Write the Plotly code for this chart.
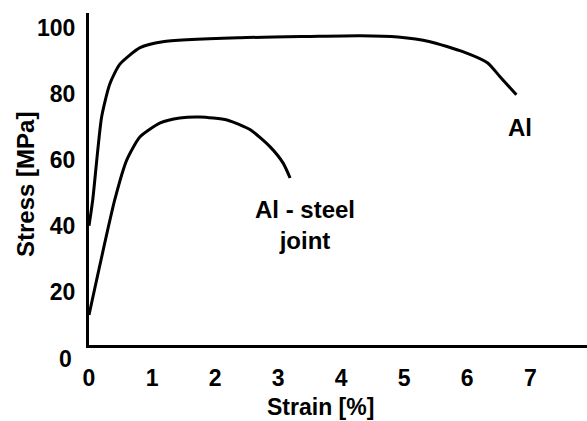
import plotly.graph_objects as go

al_strain = [0, 0.06, 0.2, 0.33, 0.49, 0.81, 1.17, 2.4, 3.5, 4.3, 4.9, 5.41, 5.94, 6.32, 6.52, 6.78]
al_stress = [40, 48, 73, 83, 89, 94, 95.8, 97.0, 97.4, 97.6, 97.2, 95.8, 92.7, 89.4, 85.2, 79.7]

joint_strain = [0, 0.41, 0.6, 0.81, 1.13, 1.44, 1.76, 2.19, 2.56, 2.87, 3.08, 3.19]
joint_stress = [13, 48, 60, 67, 71.2, 72.7, 73, 72.1, 69.1, 64, 59, 54.5]

x_ticks = [0, 1, 2, 3, 4, 5, 6, 7]
y_ticks = [20, 40, 60, 80, 100]

FONT = "Liberation Sans"
TICK_FONT = dict(family=FONT, size=23, color="black", weight="bold")
ANN_FONT = dict(family=FONT, size=24, color="black", weight="bold")
XTITLE_FONT = dict(family=FONT, size=23, color="black", weight="bold")

# plot-area geometry (pixels)
L, R, T, B = 89, 0, 13, 76
W, H = 587 - L - R, 421 - T - B
X_RANGE = [0, 7.9]
Y_RANGE = [3.9, 104.5]


def px_to_x(px):
    return X_RANGE[0] + (px - L) / W * (X_RANGE[1] - X_RANGE[0])


def py_to_y(py):
    return Y_RANGE[1] - (py - T) / H * (Y_RANGE[1] - Y_RANGE[0])


def px_to_paper(px):
    return (px - L) / W


def py_to_paper(py):
    return 1 - (py - T) / H


fig = go.Figure()
fig.add_trace(go.Scatter(x=al_strain, y=al_stress, mode="lines",
                         line=dict(color="black", width=3, shape="spline", smoothing=0.6),
                         showlegend=False))
fig.add_trace(go.Scatter(x=joint_strain, y=joint_stress, mode="lines",
                         line=dict(color="black", width=3, shape="spline", smoothing=0.6),
                         showlegend=False))

fig.update_layout(
    width=587, height=421,
    margin=dict(l=L, r=R, t=T, b=B),
    paper_bgcolor="white", plot_bgcolor="white",
    font=dict(family=FONT, color="black"),
    xaxis=dict(range=X_RANGE, tickvals=x_ticks, showgrid=False, zeroline=False,
               showline=True, linecolor="black", linewidth=3,
               tickfont=TICK_FONT, ticklabelstandoff=10),
    yaxis=dict(range=Y_RANGE, tickvals=y_ticks, showgrid=False, zeroline=False,
               showline=True, linecolor="black", linewidth=3,
               tickfont=TICK_FONT, ticklabelstandoff=6),
)

# "0" label of the stress axis (sits below the strain axis line)
fig.add_annotation(x=px_to_paper(65), y=py_to_paper(359), xref="paper", yref="paper",
                   xanchor="center", yanchor="middle", text="0", showarrow=False,
                   font=TICK_FONT)
# axis titles
fig.add_annotation(x=px_to_paper(320), y=py_to_paper(407), xref="paper", yref="paper",
                   xanchor="center", yanchor="middle", text="Strain [%]", showarrow=False,
                   font=XTITLE_FONT)
fig.add_annotation(x=px_to_paper(25), y=py_to_paper(185), xref="paper", yref="paper",
                   xanchor="center", yanchor="middle", text="Stress [MPa]", textangle=-90,
                   showarrow=False, font=ANN_FONT)
# curve labels
fig.add_annotation(x=px_to_x(520), y=py_to_y(127), xref="x", yref="y",
                   xanchor="center", yanchor="middle", text="Al", showarrow=False,
                   font=ANN_FONT)
fig.add_annotation(x=px_to_x(305), y=py_to_y(225), xref="x", yref="y",
                   xanchor="center", yanchor="middle", align="center",
                   text="Al - steel<br>joint", showarrow=False, font=ANN_FONT)

fig.write_html("out.html")
